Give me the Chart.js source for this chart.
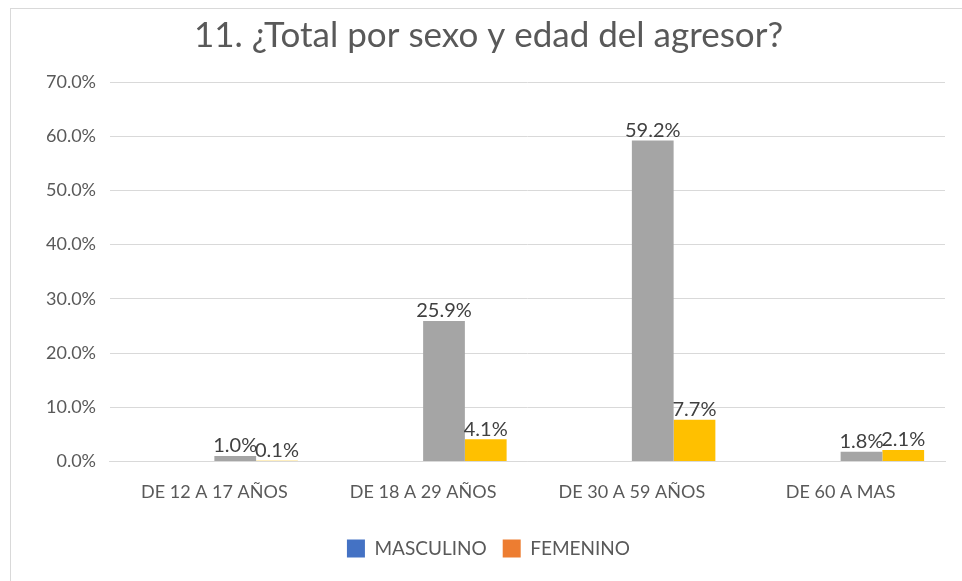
<!DOCTYPE html>
<html>
<head>
<meta charset="utf-8">
<script src="https://cdn.jsdelivr.net/npm/chart.js@4"></script>
<style>
  html, body { margin: 0; padding: 0; background: #fff; }
  #wrap { position: relative; width: 962px; height: 581px; }
  #frame { position: absolute; left: 10px; top: 8px; right: -2px; bottom: -2px; border: 1px solid #d9d9d9; }
  canvas { position: absolute; left: 0; top: 0; }
</style>
</head>
<body>
<div id="wrap">
  <div id="frame"></div>
  <canvas id="chart" width="962" height="581"></canvas>
</div>
<script>
// datos
const categorias = ['DE 12 A 17 AÑOS', 'DE 18 A 29 AÑOS', 'DE 30 A 59 AÑOS', 'DE 60 A MAS'];
const masculino = [null, null, null, null];
const femenino = [null, null, null, null];
const serieGris = [1.0, 25.9, 59.2, 1.8];
const serieAmarilla = [0.1, 4.1, 7.7, 2.1];
const ticksY = [0, 10, 20, 30, 40, 50, 60, 70];

const fuente = "Lato, 'Open Sans', sans-serif";

// etiquetas encima de las barras (solo series visibles)
const etiquetas = {
    id: 'etiquetas',
    afterDatasetsDraw(chart) {
        const ctx = chart.ctx;
        ctx.save();
        ctx.font = '20px ' + fuente;
        ctx.fillStyle = '#404040';
        ctx.textAlign = 'center';
        ctx.textBaseline = 'bottom';
        [2, 3].forEach(i => {
            const meta = chart.getDatasetMeta(i);
            meta.data.forEach((bar, j) => {
                const v = chart.data.datasets[i].data[j];
                if (v == null) return;
                ctx.fillText(v.toFixed(1) + '%', bar.x, bar.y);
            });
        });
        ctx.restore();
    }
};

new Chart(document.getElementById('chart'), {
    type: 'bar',
    data: {
        labels: categorias,
        datasets: [
            { label: 'MASCULINO', data: masculino, backgroundColor: '#4472c4' },
            { label: 'FEMENINO', data: femenino, backgroundColor: '#ed7d31' },
            { label: 'gris', data: serieGris, backgroundColor: '#a5a5a5' },
            { label: 'amarillo', data: serieAmarilla, backgroundColor: '#ffc000' }
        ]
    },
    options: {
        responsive: false,
        animation: false,
        devicePixelRatio: 1,
        layout: { padding: { left: 32, right: 17, top: 10, bottom: 13 } },
        datasets: { bar: { categoryPercentage: 0.8, barPercentage: 1.0 } },
        plugins: {
            title: {
                display: true,
                text: '11. ¿Total por sexo y edad del agresor?',
                color: '#595959',
                font: { family: fuente, size: 35, weight: 'normal' },
                padding: { top: 5, bottom: 25 }
            },
            legend: {
                position: 'bottom',
                labels: {
                    filter: item => item.datasetIndex < 2,
                    color: '#595959',
                    font: { family: fuente, size: 19 },
                    boxWidth: 18,
                    boxHeight: 18,
                    padding: 16
                }
            },
            tooltip: { enabled: false }
        },
        scales: {
            x: {
                grid: { display: false, drawTicks: false },
                border: { color: '#d9d9d9' },
                ticks: { color: '#595959', font: { family: fuente, size: 18 }, padding: 20 }
            },
            y: {
                min: 0,
                max: 70,
                afterBuildTicks: axis => { axis.ticks = ticksY.map(v => ({ value: v })); },
                grid: { color: '#d9d9d9', drawTicks: false },
                border: { display: false },
                ticks: {
                    color: '#595959',
                    font: { family: fuente, size: 18 },
                    padding: 14,
                    callback: v => v.toFixed(1) + '%'
                }
            }
        }
    },
    plugins: [etiquetas]
});
</script>
</body>
</html>
